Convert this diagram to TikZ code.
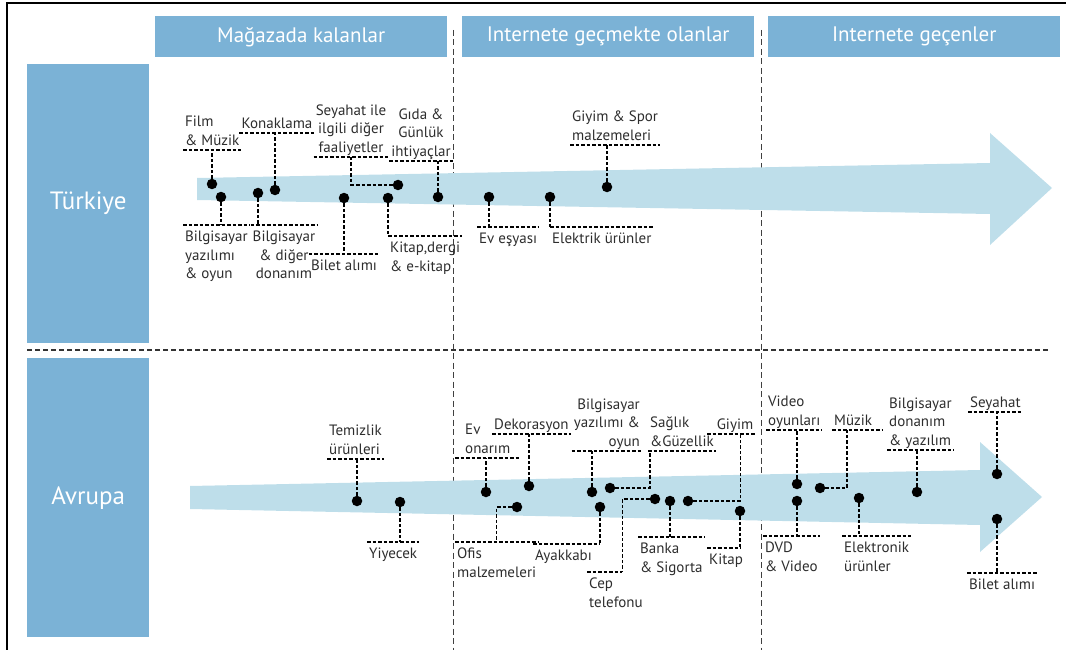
\documentclass[tikz,border=0pt]{standalone}
\usepackage{fontspec}
\setmainfont{PT Sans}
\usepackage{tikz}
\usetikzlibrary{calc}
\definecolor{hdrblue}{RGB}{123,178,214}
\definecolor{bandblue}{RGB}{190,222,234}
\definecolor{labelgray}{RGB}{45,45,45}
\tikzset{
  header/.style={fill=hdrblue,text=white,font=\fontsize{21}{24}\selectfont,minimum width=292pt,minimum height=41pt,inner sep=0pt,anchor=north west},
  region/.style={fill=hdrblue,text=white,font=\fontsize{25}{28}\selectfont,minimum width=122pt,minimum height=279pt,inner sep=0pt,anchor=north west},
  item/.style={circle,fill=black,inner sep=0pt,minimum size=10.5pt},
  toplbl/.style={font=\fontsize{15}{18.5}\selectfont,text=labelgray,inner xsep=2pt,inner ysep=4.5pt,text depth=0pt,anchor=south west,align=left},
  botlbl/.style={font=\fontsize{15}{18.5}\selectfont,text=labelgray,inner xsep=2pt,inner ysep=6pt,anchor=north west,align=left},
  lead/.style={line width=1.3pt,dash pattern=on 3.5pt off 2pt,draw=black},
  divider/.style={line width=1pt,dash pattern=on 6pt off 3.5pt,draw=black!75},
  band/.style={fill=bandblue,draw=none}
}

\begin{document}
\begin{tikzpicture}[x=1pt,y=-1pt]
\useasboundingbox (0,0) rectangle (1066,650);
% marco y encabezados
\draw[line width=2pt] (1066,3) -- (7,3) -- (7,650);
\node[header] (h1) at (155,16) {Mağazada kalanlar};
\node[header] (h2) at (462,16) {Internete geçmekte olanlar};
\node[header] (h3) at (768,16) {Internete geçenler};
\node[region] (tr) at (27,64) {Türkiye};
\node[region] (eu) at (27,358) {Avrupa};
\draw[divider] (453,30) -- (453,650);
\draw[divider] (761,30) -- (761,650);
\draw[line width=1.5pt,dash pattern=on 5pt off 3pt,draw=black!80] (27,350) -- (1050,350);

% flechas
\fill[band] (197,178) -- (990,163) -- (990,133) -- (1052,188) -- (990,245) -- (990,214) -- (197,200) -- cycle;
\fill[band] (190,486) -- (980,470) -- (980,442) -- (1042,497) -- (980,552) -- (980,525) -- (190,509) -- cycle;

% Turkiye
\node[item] (d1) at (212,184) {};
\node[item] (d2) at (221,197) {};
\node[item] (d3) at (258,193) {};
\node[item] (d4) at (275,190) {};
\node[item] (d5) at (398,185) {};
\node[item] (d6) at (438,197) {};
\node[item] (d7) at (344,198) {};
\node[item] (d8) at (388,198) {};
\node[item] (d9) at (489,197) {};
\node[item] (d10) at (550,197) {};
\node[item] (d11) at (607,187) {};

\node[toplbl] (film) at (183,150) {Film\\\& Müzik};
\node[botlbl] (bilyaz) at (183,225) {Bilgisayar\\yazılımı\\\& oyun};
\node[botlbl,anchor=north,align=center] (bildon) at (284,225) {Bilgisayar\\\& diğer\\donanım};
\node[toplbl,anchor=south,align=center] (konak) at (277,133) {Konaklama};
\node[toplbl,anchor=south,align=center] (seyahat) at (351,157) {Seyahat ile\\ilgili diğer\\faaliyetler};
\node[toplbl,anchor=south,align=center] (gida) at (421,161) {Gıda \&\\Günlük\\ihtiyaçlar};
\node[botlbl,anchor=north] (bilet) at (344,254) {Bilet alımı};
\node[botlbl] (kitap) at (388,236) {Kitap,dergi\\\& e-kitap};
\node[botlbl] (evesya) at (477,227) {Ev eşyası};
\node[botlbl] (elektrik) at (550,227) {Elektrik ürünler};
\node[toplbl] (giyimspor) at (570,145) {Giyim \& Spor\\malzemeleri};

\foreach \n in {film,konak,seyahat,gida,giyimspor}
  \draw[lead] (\n.south west) -- (\n.south east);
\foreach \n in {bilyaz,bildon,bilet,evesya,elektrik}
  \draw[lead] (\n.north west) -- (\n.north east);
\draw[lead] (d1) -- (d1 |- film.south);
\draw[lead] (d2) -- (d2 |- bilyaz.north);
\draw[lead] (d3) -- (d3 |- bildon.north);
\draw[lead] (d4) -- (d4 |- konak.south);
\draw[lead] (seyahat.south) |- (d5);
\draw[lead] (d6) -- (d6 |- gida.south);
\draw[lead] (d7) -- (d7 |- bilet.north);
\draw[lead] (d8) |- (kitap.north east);
\draw[lead] (d9) -- (d9 |- evesya.north);
\draw[lead] (d10) -- (d10 |- elektrik.north);
\draw[lead] (d11) -- (d11 |- giyimspor.south);

% Avrupa
\node[item] (d12) at (357,501) {};
\node[item] (d13) at (400,502) {};
\node[item] (d14) at (486,492) {};
\node[item] (d15) at (529,486) {};
\node[item] (d16) at (517,507) {};
\node[item] (d17) at (600,507) {};
\node[item] (d18) at (592,492) {};
\node[item] (d19) at (610,488) {};
\node[item] (d20) at (688,501) {};
\node[item] (d21) at (740,511) {};
\node[item] (d22) at (670,501) {};
\node[item] (d23) at (655,499) {};
\node[item] (d24) at (797,484) {};
\node[item] (d25) at (820,488) {};
\node[item] (d26) at (797,501) {};
\node[item] (d27) at (859,498) {};
\node[item] (d28) at (917,492) {};
\node[item] (d29) at (997,474) {};
\node[item] (d30) at (997,519) {};

\node[toplbl] (temiz) at (327,459) {Temizlik\\ürünleri};
\node[botlbl] (yiyecek) at (367,542) {Yiyecek};
\node[toplbl,minimum width=65pt] (evonar) at (455,458) {Ev\\onarım};
\node[toplbl] (dekor) at (492,434) {Dekorasyon};
\node[botlbl] (ofis) at (455,542) {Ofis\\malzemeleri};
\node[botlbl,text width=63pt] (ayakkabi) at (533,544) {Ayakkabı};
\node[toplbl,anchor=south east,align=right] (bilyazeu) at (642,451) {Bilgisayar\\yazılımı \&\\oyun};
\node[toplbl] (saglik) at (648,451) {Sağlık\\\&Güzellik};
\node[toplbl,align=right,text width=44pt] (giyim) at (707,434) {Giyim};
\node[botlbl,text width=29pt] (kitapeu) at (707,548) {Kitap};
\node[botlbl] (banka) at (638,537) {Banka\\\& Sigorta};
\node[botlbl,text width=31pt] (cep) at (587,572) {Cep\\telefonu};
\node[toplbl] (video) at (766,430) {Video\\oyunları};
\node[toplbl,text width=47pt] (muzik) at (832,430) {Müzik};
\node[botlbl] (dvd) at (763,536) {DVD\\\& Video};
\node[botlbl] (elektronik) at (842,536) {Elektronik\\ürünler};
\node[toplbl] (bildoneu) at (887,450) {Bilgisayar\\donanım\\\& yazılım};
\node[toplbl] (seyahateu) at (968,412) {Seyahat};
\node[botlbl] (bileteu) at (967,573) {Bilet alımı};

\foreach \n in {temiz,evonar,dekor,bilyazeu,saglik,giyim,video,muzik,bildoneu,seyahateu}
  \draw[lead] (\n.south west) -- (\n.south east);
\foreach \n in {yiyecek,ofis,ayakkabi,kitapeu,banka,cep,dvd,elektronik,bileteu}
  \draw[lead] (\n.north west) -- (\n.north east);
\draw[lead] (d12) -- (d12 |- temiz.south);
\draw[lead] (d13) -- (d13 |- yiyecek.north);
\draw[lead] (d14) -- (d14 |- evonar.south);
\draw[lead] (d15) -- (d15 |- dekor.south);
\draw[lead] (d16) -| (ofis.north);
\draw[lead] (d17) -- (d17 |- ayakkabi.north);
\draw[lead] (d18) -- (d18 |- bilyazeu.south);
\draw[lead] (d19) -| ([xshift=2pt]saglik.south west);
\draw[lead] (d20) -| ([xshift=-15pt]giyim.south east);
\draw[lead] (d21) -- (d21 |- kitapeu.north);
\draw[lead] (d22) -- (d22 |- banka.north);
\draw[lead] (d23) -| (cep.north east);
\draw[lead] (d24) -- (d24 |- video.south);
\draw[lead] (d25) -| ([xshift=15pt]muzik.south west);
\draw[lead] (d26) -- (d26 |- dvd.north);
\draw[lead] (d27) -- (d27 |- elektronik.north);
\draw[lead] (d28) -- (d28 |- bildoneu.south);
\draw[lead] (d29) -- (d29 |- seyahateu.south);
\draw[lead] (d30) -- (d30 |- bileteu.north);
\end{tikzpicture}
\end{document}
